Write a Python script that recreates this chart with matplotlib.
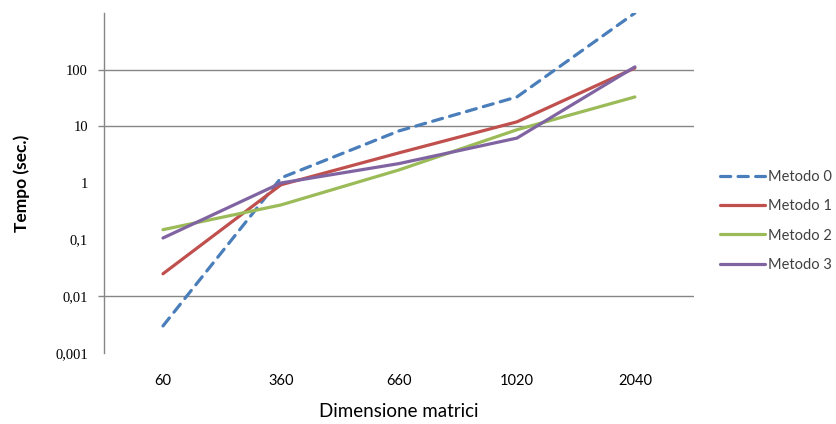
import matplotlib
matplotlib.use("Agg")
import matplotlib.pyplot as plt
from matplotlib.ticker import FixedLocator, NullFormatter

plt.rcParams['font.family'] = ['Lato', 'DejaVu Sans']

# Data (log scale)
categories = ["60", "360", "660", "1020", "2040"]
metodo_0 = [0.003, 1.23, 8.3, 33, 1000]
metodo_1 = [0.025, 0.93, 3.4, 12, 107]
metodo_2 = [0.15, 0.41, 1.7, 8.7, 33]
metodo_3 = [0.107, 1.0, 2.2, 6.2, 112]

series_names = ["Metodo 0", "Metodo 1", "Metodo 2", "Metodo 3"]
colors = ["#4A7EBB", "#C0504D", "#9BBB59", "#8064A2"]

fig = plt.figure(figsize=(8.36, 4.24), dpi=100)
ax = fig.add_axes([0.1244, 0.1675, 0.7056, 0.8018])

x = range(len(categories))
all_series = [metodo_0, metodo_1, metodo_2, metodo_3]
for name, vals, col in zip(series_names, all_series, colors):
    if name == "Metodo 0":
        ax.plot(x, vals, color=col, lw=2.3, label=name,
                dashes=(3.2, 2.3), dash_capstyle='round')
    else:
        ax.plot(x, vals, color=col, lw=2.3, label=name,
                solid_capstyle='round')

ax.set_yscale('log')
ax.set_ylim(0.001, 1000)
ax.set_xlim(-0.5, len(categories) - 0.5)

# y ticks: labels on every decade (except top), grid only on some
yt = [0.001, 0.01, 0.1, 1, 10, 100]
ylabels = ["0,001", "0,01", "0,1", "1", "10", "100"]
ax.yaxis.set_major_locator(FixedLocator(yt))
ax.set_yticklabels(ylabels, family=['Liberation Serif'], fontsize=10.5)
ax.yaxis.remove_overlapping_locs = False
ax.yaxis.set_minor_locator(FixedLocator([0.01, 10, 100]))
ax.yaxis.set_minor_formatter(NullFormatter())
ax.tick_params(axis='y', which='major', length=0, pad=11.5)
ax.tick_params(axis='y', which='minor', length=4, width=1, color='#868686')
ax.grid(True, axis='y', which='minor', color='#868686', lw=1)
ax.set_axisbelow(True)

ax.set_xticks(list(x))
ax.set_xticklabels(categories, fontsize=10.5)
ax.tick_params(axis='x', length=0, pad=15)

for s in ['top', 'right', 'bottom']:
    ax.spines[s].set_visible(False)
ax.spines['left'].set_color('#868686')
ax.spines['left'].set_linewidth(1)

ax.set_ylabel("Tempo (sec.)", fontsize=12.5, fontweight='bold', va='center')
ax.yaxis.set_label_coords(-0.139, 0.5)
ax.set_xlabel("Dimensione matrici", fontsize=13.5, va='center')
ax.xaxis.set_label_coords(0.5, -0.1735)

leg = fig.legend(loc='center left', bbox_to_anchor=(0.861, 0.479),
                 frameon=False, fontsize=10.5, handlelength=3.1,
                 handletextpad=0.2, labelspacing=1.05,
                 borderpad=0, borderaxespad=0)
for t in leg.get_texts():
    t.set_color('#404040')

fig.savefig("out.png", dpi=100)
